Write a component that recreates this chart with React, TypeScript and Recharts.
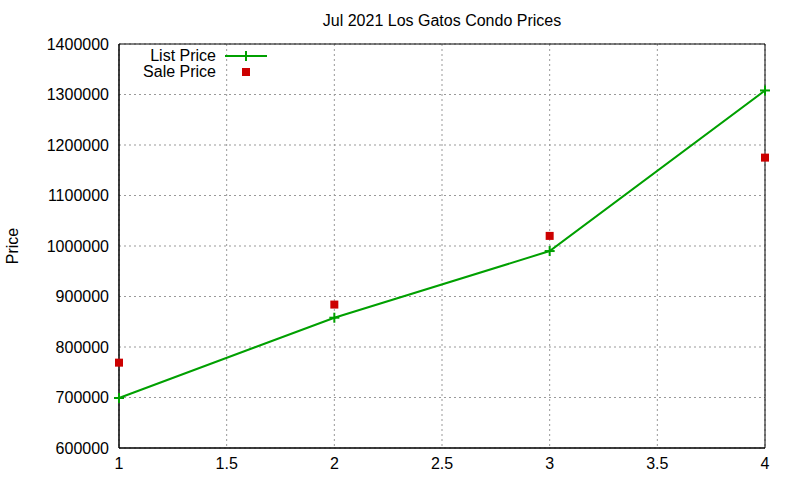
import { LineChart, Line, XAxis, YAxis, CartesianGrid, ReferenceArea } from "recharts"

const months = [1, 2, 3, 4]
const listPrice = [699000, 858000, 990000, 1308000]
const salePrice = [769000, 884000, 1020000, 1175000]
const xTicks = [1, 1.5, 2, 2.5, 3, 3.5, 4]
const yTicks = [600000, 700000, 800000, 900000, 1000000, 1100000, 1200000, 1300000, 1400000]

const data = months.map((m, i) => ({ x: m, list: listPrice[i], sale: salePrice[i] }))

const GREEN = "#00a000"
const RED = "#cc0000"
const FONT = "'Liberation Sans', Arial, sans-serif"

const PlusDot = (props: any) => {
  const { cx, cy } = props
  if (cx == null || cy == null) return null
  return (
    <g stroke={GREEN} strokeWidth={2}>
      <line x1={cx - 5} y1={cy} x2={cx + 5} y2={cy} />
      <line x1={cx} y1={cy - 5} x2={cx} y2={cy + 5} />
    </g>
  )
}

const SquareDot = (props: any) => {
  const { cx, cy } = props
  if (cx == null || cy == null) return null
  return <rect x={cx - 4} y={cy - 4} width={8} height={8} fill={RED} />
}

export default function App() {
  return (
    <div style={{ position: "absolute", left: 0, top: 0, width: 800, height: 480, background: "#fff" }}>
      <LineChart
        width={800}
        height={480}
        data={data}
        margin={{ top: 44, right: 35, left: 0, bottom: 0 }}
        style={{ fontFamily: FONT }}
      >
        <text x={442} y={26} textAnchor="middle" fontSize={16} fill="#000" fontFamily={FONT}>
          Jul 2021 Los Gatos Condo Prices
        </text>
        <text x={18} y={246} transform="rotate(-90, 18, 246)" textAnchor="middle" fontSize={16} fill="#000" fontFamily={FONT}>
          Price
        </text>
        <CartesianGrid stroke="#999" strokeDasharray="2 3" />
        <XAxis
          dataKey="x"
          type="number"
          domain={[1, 4]}
          ticks={xTicks}
          interval={0}
          height={32}
          tickSize={0}
          tickMargin={10}
          axisLine={{ stroke: "#000" }}
          tick={{ fill: "#000", fontSize: 16 }}
        />
        <YAxis
          type="number"
          domain={[600000, 1400000]}
          ticks={yTicks}
          interval={0}
          width={119}
          tickSize={0}
          tickMargin={10}
          axisLine={{ stroke: "#000" }}
          tick={{ fill: "#000", fontSize: 16 }}
        />
        <ReferenceArea
          x1={1}
          x2={4}
          y1={600000}
          y2={1400000}
          fill="none"
          stroke="#000"
          strokeWidth={1}
          ifOverflow="visible"
        />
        <g fontFamily={FONT} fontSize={16}>
          <text x={216} y={61} textAnchor="end" fill="#000">List Price</text>
          <line x1={225} y1={56} x2={267} y2={56} stroke={GREEN} strokeWidth={2} />
          <line x1={246} y1={51} x2={246} y2={61} stroke={GREEN} strokeWidth={2} />
          <text x={216} y={77} textAnchor="end" fill="#000">Sale Price</text>
          <rect x={242} y={68} width={8} height={8} fill={RED} />
        </g>
        <Line
          dataKey="list"
          stroke={GREEN}
          strokeWidth={2}
          dot={<PlusDot />}
          activeDot={false}
          isAnimationActive={false}
        />
        <Line
          dataKey="sale"
          stroke="none"
          dot={<SquareDot />}
          activeDot={false}
          isAnimationActive={false}
        />
      </LineChart>
    </div>
  )
}
